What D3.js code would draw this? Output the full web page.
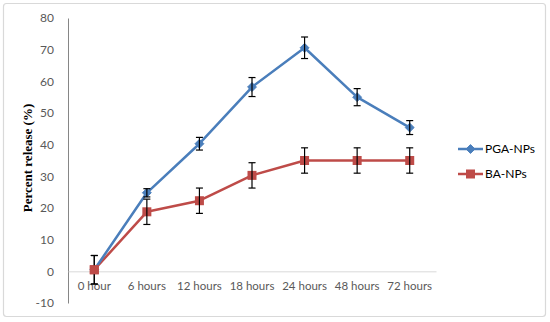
<!DOCTYPE html>
<html><head><meta charset="utf-8">
<script src="https://cdn.jsdelivr.net/npm/d3@7"></script>
<style>body{margin:0;background:#fff}svg{display:block}</style>
</head><body>
<script>
const categories = ["0 hour","6 hours","12 hours","18 hours","24 hours","48 hours","72 hours"];
const pgaValues = [0.5, 24.8, 40.3, 58.2, 70.6, 55.0, 45.4];
const pgaErrors = [4.5, 1.3, 2.0, 3.0, 3.4, 2.7, 2.2];
const baValues = [0.5, 18.8, 22.3, 30.3, 35.0, 35.0, 35.0];
const baErrors = [4.5, 4.0, 4.0, 4.0, 4.0, 4.0, 4.0];
const yTicks = [-10, 0, 10, 20, 30, 40, 50, 60, 70, 80];
const seriesNames = ["PGA-NPs", "BA-NPs"];

const W = 550, H = 322;
const svg = d3.select("body").append("svg").attr("width", W).attr("height", H);
svg.append("rect").attr("x", 3.5).attr("y", 3.5).attr("width", 542).attr("height", 313)
  .attr("rx", 3).attr("fill", "#fff").attr("stroke", "#d9d9d9").attr("stroke-width", 1.2);

const x = d3.scaleBand().domain(categories).range([68, 436]);
const y = d3.scaleLinear().domain([-10, 80]).range([303, 18]);
const font = "Lato, 'Open Sans', sans-serif";

// y axis
const yAxis = svg.append("g").attr("transform", "translate(68,0)")
  .call(d3.axisLeft(y).tickValues(yTicks).tickFormat(d => String(d)).tickSize(0).tickPadding(14));
yAxis.select(".domain").attr("stroke", "#868686").attr("stroke-width", 1);
yAxis.selectAll("text").attr("font-family", font).attr("font-size", 12).attr("fill", "#595959");

// x axis at y=0
const xAxis = svg.append("g").attr("transform", `translate(0,${y(0)})`)
  .call(d3.axisBottom(x).tickSize(0).tickPadding(11));
xAxis.select(".domain").attr("stroke", "#d9d9d9").attr("stroke-width", 1);
xAxis.selectAll("text").attr("font-family", font).attr("font-size", 11.5).attr("fill", "#595959");

// y title
svg.append("text").attr("transform", "translate(32,158) rotate(-90)")
  .attr("text-anchor", "middle").attr("font-family", "'Liberation Serif', 'Times New Roman', serif")
  .attr("font-weight", "bold").attr("font-size", 13).attr("fill", "#000").text("Percent release (%)");

const cx = d => x(d) + x.bandwidth() / 2;
const series = [
  {name: seriesNames[0], vals: pgaValues, errs: pgaErrors, color: "#4a7ebb", marker: "diamond"},
  {name: seriesNames[1], vals: baValues, errs: baErrors, color: "#be4b48", marker: "square"}
];
const line = d3.line().x((d, i) => cx(categories[i])).y(d => y(d));

function drawMarker(g, type, px, py, color) {
  if (type === "diamond") {
    g.append("path").attr("d", d3.symbol(d3.symbolDiamond2, 50)()).attr("transform", `translate(${px},${py})`)
      .attr("fill", color).attr("stroke", color);
  } else {
    g.append("rect").attr("x", px - 4.5).attr("y", py - 4.5).attr("width", 9).attr("height", 9)
      .attr("fill", color);
  }
}

series.slice().reverse().forEach(s => {
  svg.append("path").datum(s.vals).attr("d", line).attr("fill", "none")
    .attr("stroke", s.color).attr("stroke-width", 2.5).attr("stroke-linejoin", "round");
});
series.forEach(s => {
  const g = svg.append("g");
  s.vals.forEach((v, i) => {
    drawMarker(g, s.marker, cx(categories[i]), y(v), s.color);
  });
});
// error bars
series.forEach(s => {
  const g = svg.append("g").attr("stroke", "#000").attr("stroke-width", 1.2);
  s.vals.forEach((v, i) => {
    const px = cx(categories[i]);
    const y1 = y(v + s.errs[i]), y2 = y(v - s.errs[i]);
    g.append("line").attr("x1", px).attr("x2", px).attr("y1", y1).attr("y2", y2);
    g.append("line").attr("x1", px - 3.5).attr("x2", px + 3.5).attr("y1", y1).attr("y2", y1);
    g.append("line").attr("x1", px - 3.5).attr("x2", px + 3.5).attr("y1", y2).attr("y2", y2);
  });
});
drawMarker(svg.append("g"), "square", cx(categories[0]), y(baValues[0]), "#be4b48");

// legend
series.forEach((s, i) => {
  const ly = 149 + i * 25;
  const g = svg.append("g");
  g.append("line").attr("x1", 458).attr("x2", 483).attr("y1", ly).attr("y2", ly)
    .attr("stroke", s.color).attr("stroke-width", 2.5);
  drawMarker(g, s.marker, 470.5, ly, s.color);
  g.append("text").attr("x", 485).attr("y", ly).attr("dy", "0.35em")
    .attr("font-family", font).attr("font-size", 12).attr("fill", "#000").text(s.name);
});
</script>
</body></html>
